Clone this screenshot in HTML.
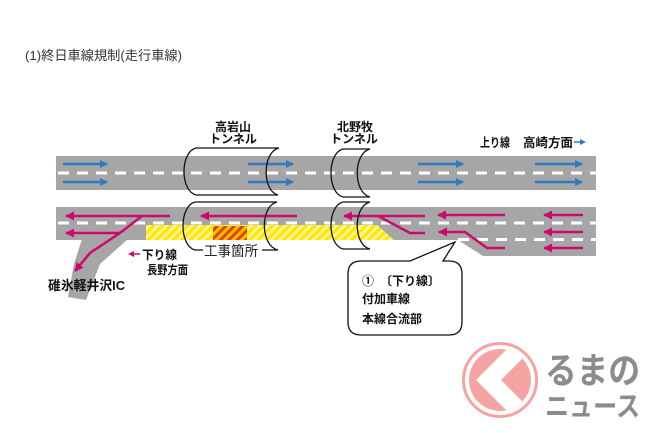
<!DOCTYPE html>
<html><head><meta charset="utf-8"><style>
html,body{margin:0;padding:0;background:#fff;}
svg{display:block;}
text{font-family:"Liberation Sans","Noto Sans CJK JP",sans-serif;}
</style></head><body>
<svg width="650" height="433" viewBox="0 0 650 433" xmlns="http://www.w3.org/2000/svg">
<defs>
<pattern id="yh" patternUnits="userSpaceOnUse" width="6" height="6" patternTransform="rotate(45)">
<rect width="6" height="6" fill="#ffe800"/><rect width="2.6" height="6" fill="#fff3a0"/>
</pattern>
<pattern id="oh" patternUnits="userSpaceOnUse" width="6" height="6" patternTransform="rotate(45)">
<rect width="6" height="6" fill="#ffc400"/><rect width="3" height="6" fill="#e8420c"/>
</pattern>
<marker id="bh" markerWidth="8" markerHeight="8" refX="7" refY="4" orient="auto" markerUnits="userSpaceOnUse">
<path d="M8,4 L0,0 L0,8 Z" fill="#2f7ac0"/></marker>
<marker id="mh2" markerWidth="9" markerHeight="9" refX="8" refY="4.5" orient="auto" markerUnits="userSpaceOnUse">
<path d="M9,4.5 L0,0 L0,9 Z" fill="#cc0a6e"/></marker>
<clipPath id="cc"><circle cx="500" cy="380" r="31"/></clipPath>
</defs>

<!-- title -->
<text x="25" y="60" font-size="13" fill="#333" textLength="157" lengthAdjust="spacingAndGlyphs">(1)終日車線規制(走行車線)</text>

<!-- roads -->
<rect x="56" y="156" width="540" height="34" fill="#a6a6a6"/>
<path d="M56,207 L596,207 L596,256 L483,256 L458,240 L56,240 Z" fill="#a6a6a6"/>
<path d="M82,239 L128,239 L100,264 L86,300 L68,297 L74,264 Z" fill="#a6a6a6"/>

<!-- dashes -->
<g stroke="#fff" stroke-width="3" stroke-dasharray="11 8">
<line x1="58" y1="173" x2="596" y2="173"/>
<line x1="58" y1="223" x2="596" y2="223"/>
<line x1="458" y1="239.5" x2="596" y2="239.5"/>
</g>

<!-- construction hatch -->
<path d="M146,225 L377,225 L394,240 L146,240 Z" fill="url(#yh)"/>
<rect x="213" y="226" width="34" height="14" fill="url(#oh)"/>

<!-- blue arrows -->
<g stroke="#2f7ac0" stroke-width="2.5" fill="none" marker-end="url(#bh)">
<line x1="63" y1="164" x2="107" y2="164"/><line x1="63" y1="182" x2="107" y2="182"/>
<line x1="248" y1="164" x2="293" y2="164"/><line x1="248" y1="182" x2="293" y2="182"/>
<line x1="418" y1="164" x2="463" y2="164"/><line x1="418" y1="182" x2="463" y2="182"/>
<line x1="535" y1="164" x2="582" y2="164"/><line x1="535" y1="182" x2="582" y2="182"/>
</g>

<!-- magenta arrows -->
<g stroke="#cc0a6e" stroke-width="2.5" fill="none">
<line x1="170" y1="216" x2="66" y2="216" marker-end="url(#mh2)"/>
<line x1="120" y1="233" x2="66" y2="233" marker-end="url(#mh2)"/>
<polyline points="142,216 120,233 90,253 75,271" marker-end="url(#mh2)"/>
<line x1="297" y1="216" x2="201" y2="216" marker-end="url(#mh2)"/>
<line x1="425" y1="216" x2="344" y2="216" marker-end="url(#mh2)"/>
<polyline points="378,216 410,233 425,233"/>
<line x1="505" y1="215" x2="438" y2="215" marker-end="url(#mh2)"/>
<polyline points="505,248 487,248 465,232 439,232" marker-end="url(#mh2)"/>
<line x1="583" y1="215" x2="544" y2="215" marker-end="url(#mh2)"/>
<line x1="583" y1="232" x2="544" y2="232" marker-end="url(#mh2)"/>
<line x1="583" y1="248" x2="544" y2="248" marker-end="url(#mh2)"/>
</g>

<!-- tunnels -->
<g stroke="#111" stroke-width="1.3" fill="none">
<path d="M196,148 L279,148 M196,195 L278,195"/>
<path d="M196,148 C180,152 180,191 196,195"/>
<path d="M279,148 C262,152 262,191 278,195"/>
<path d="M195,202 L277,202"/>
<path d="M195,202 C179,206 179,246 195,250 L203,250"/>
<path d="M277,202 C260,206 260,246 278,250 L262,250"/>
<path d="M343,149 L370,149 M343,197 L370,197"/>
<path d="M343,149 C327,153 327,193 343,197"/>
<path d="M370,149 C353,153 353,193 370,197"/>
<path d="M343,202 L370,202 M343,249 L370,249"/>
<path d="M343,202 C327,206 327,245 343,249"/>
<path d="M370,202 C353,206 353,245 370,249"/>
</g>
<text x="204" y="256" font-size="14" fill="#222" textLength="54" lengthAdjust="spacingAndGlyphs">工事箇所</text>

<!-- labels -->
<g font-weight="bold" fill="#111" font-size="12">
<text x="233" y="131" text-anchor="middle">高岩山</text>
<text x="233" y="143" text-anchor="middle">トンネル</text>
<text x="355" y="131" text-anchor="middle">北野牧</text>
<text x="354" y="143" text-anchor="middle">トンネル</text>
<text x="480" y="147" font-size="12.5" textLength="30" lengthAdjust="spacingAndGlyphs">上り線</text>
<text x="523" y="147" font-size="12.5" textLength="50" lengthAdjust="spacingAndGlyphs">高崎方面</text>
<text x="142" y="259" textLength="35" lengthAdjust="spacingAndGlyphs">下り線</text>
<text x="147" y="274" textLength="41" lengthAdjust="spacingAndGlyphs">長野方面</text>
<text x="48" y="290" font-size="13" textLength="77" lengthAdjust="spacingAndGlyphs">碓氷軽井沢IC</text>
</g>
<line x1="574" y1="142" x2="582" y2="142" stroke="#2f7ac0" stroke-width="1.5"/>
<path d="M586,142 L580,139 L580,145 Z" fill="#2f7ac0"/>
<line x1="132" y1="254" x2="140" y2="254" stroke="#cc0a6e" stroke-width="1.5"/>
<path d="M128,254 L134,251 L134,257 Z" fill="#cc0a6e"/>

<!-- callout -->
<path d="M361,261 L410,261 L455,242 L443,261 L449,261 Q462,261 462,274 L462,322 Q462,335 449,335 L361,335 Q348,335 348,322 L348,274 Q348,261 361,261 Z" fill="#fff" stroke="#111" stroke-width="1.3"/>
<g font-weight="bold" fill="#111" font-size="12">
<text x="362" y="285" textLength="78" lengthAdjust="spacingAndGlyphs">①　〔下り線〕</text>
<text x="362" y="303" textLength="48" lengthAdjust="spacingAndGlyphs">付加車線</text>
<text x="362" y="323" textLength="60" lengthAdjust="spacingAndGlyphs">本線合流部</text>
</g>

<!-- logo -->
<circle cx="500" cy="380" r="36.5" fill="none" stroke="#f6a3a3" stroke-width="3"/>
<circle cx="500" cy="380" r="31" fill="#f6a3a3"/>
<path d="M476,380 L511,345 L536,345 L501,380 L536,415 L511,415 Z" fill="#fff" clip-path="url(#cc)"/>
<text x="545" y="383" font-size="36" font-weight="bold" fill="#8c8c8c" textLength="95" lengthAdjust="spacingAndGlyphs">るまの</text>
<text x="545" y="416" font-size="28" font-weight="bold" fill="#8c8c8c" textLength="95" lengthAdjust="spacingAndGlyphs">ニュース</text>
</svg>
</body></html>
